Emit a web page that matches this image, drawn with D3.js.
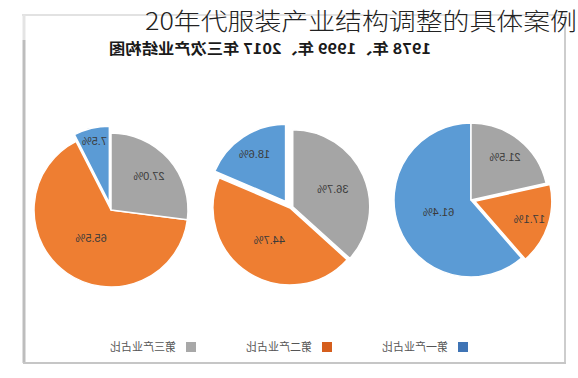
<!DOCTYPE html>
<html><head><meta charset="utf-8">
<script src="https://cdn.jsdelivr.net/npm/d3@7"></script>
<style>html,body{margin:0;padding:0;background:#fff;}svg{display:block;}</style>
</head><body>
<svg id="c" width="578" height="378"></svg>
<script>
// ---- data ----
const years = ["1978", "1999", "2017"];
const sectors = ["第一产业占比", "第二产业占比", "第三产业占比"];
const share1978 = [61.4, 17.1, 21.5];
const share1999 = [18.6, 44.7, 36.7];
const share2017 = [7.5, 65.5, 27.0];
const chartTitle = "1978 年、1999 年、2017 年三次产业结构图";
const overlayTitle = "20年代服装产业结构调整的具体案例";

// ---- styles / layout ----
const sliceColors = ["#5B9BD5", "#EE7E32", "#A5A5A5"];
const legendColors = ["#3F74B5", "#D55E1D", "#A8A8A8"];
const explode = [[0, 4, 0], [8, 0, 3], [7, 0, 0]];
const centers = [[107, 200], [288, 208], [467, 210]];
const radius = 77;
const W = 578, H = 378;

const svg = d3.select("#c");

// frame (drawn in picture space)
const frame = svg.append("g");
frame.append("line").attr("x1", 22).attr("x2", 567).attr("y1", 15).attr("y2", 15).attr("stroke", "#E2E2E2").attr("stroke-width", 2);
frame.append("line").attr("x1", 24).attr("x2", 24).attr("y1", 15).attr("y2", 40).attr("stroke", "#E4E4E4").attr("stroke-width", 3);
frame.append("line").attr("x1", 24).attr("x2", 24).attr("y1", 40).attr("y2", 363).attr("stroke", "#BDBDBD").attr("stroke-width", 3);
frame.append("line").attr("x1", 565).attr("x2", 565).attr("y1", 15).attr("y2", 364).attr("stroke", "#CDCDCD").attr("stroke-width", 2);
frame.append("line").attr("x1", 23).attr("x2", 566).attr("y1", 363).attr("y2", 363).attr("stroke", "#C6C6C6").attr("stroke-width", 2);

// mirrored chart
const g = svg.append("g").attr("transform", `translate(${W},0) scale(-1,1)`);

g.append("text")
  .attr("x", 308).attr("y", 54)
  .attr("text-anchor", "middle")
  .attr("font-family", "'Noto Sans CJK SC', sans-serif")
  .attr("font-weight", 700)
  .attr("font-size", 15)
  .attr("textLength", 322).attr("lengthAdjust", "spacingAndGlyphs")
  .attr("fill", "#1a1a1a")
  .text(chartTitle);

const pie = d3.pie().sort(null).value(d => d);
const arc = d3.arc().innerRadius(0).outerRadius(radius);
const labelFrac = d3.scaleLinear().domain([0, 50]).range([0.9, 0.45]).clamp(true);

[share1978, share1999, share2017].forEach((vals, pi) => {
  const [cx, cy] = centers[pi];
  const pg = g.append("g").attr("transform", `translate(${cx},${cy})`);
  const arcs = pie(vals);
  arcs.forEach((a, si) => {
    const mid = (a.startAngle + a.endAngle) / 2;
    const e = explode[pi][si];
    const dx = Math.sin(mid) * e, dy = -Math.cos(mid) * e;
    const sg = pg.append("g").attr("transform", `translate(${dx},${dy})`);
    sg.append("path").attr("d", arc(a))
      .attr("fill", sliceColors[si])
      .attr("stroke", "#fff").attr("stroke-width", 1.5).attr("stroke-linejoin", "round");
    const lr = radius * labelFrac(a.data);
    sg.append("text")
      .attr("x", Math.sin(mid) * lr)
      .attr("y", -Math.cos(mid) * lr)
      .attr("dy", "0.35em")
      .attr("text-anchor", "middle")
      .attr("font-family", "'Liberation Sans', Arial, sans-serif")
      .attr("font-size", 11)
      .attr("fill", "#3a3a3a")
      .text(a.data.toFixed(1) + "%");
  });
});

// legend
const leg = g.append("g").attr("transform", "translate(0,347)");
sectors.forEach((s, i) => {
  const x = 110 + i * 136;
  leg.append("rect").attr("x", x).attr("y", -5).attr("width", 10).attr("height", 10).attr("fill", legendColors[i]);
  leg.append("text").attr("x", x + 20).attr("y", 0).attr("dy", "0.36em")
    .attr("font-family", "'Noto Sans CJK SC', sans-serif")
    .attr("font-size", 11).attr("fill", "#555")
    .text(s);
});

// overlay title (not mirrored)
svg.append("text")
  .attr("x", 145).attr("y", 30)
  .attr("textLength", 432).attr("lengthAdjust", "spacingAndGlyphs")
  .attr("font-family", "'Noto Sans CJK SC', sans-serif")
  .attr("font-weight", 300)
  .attr("font-size", 24)
  .attr("fill", "#222")
  .text(overlayTitle);
</script>
</body></html>
